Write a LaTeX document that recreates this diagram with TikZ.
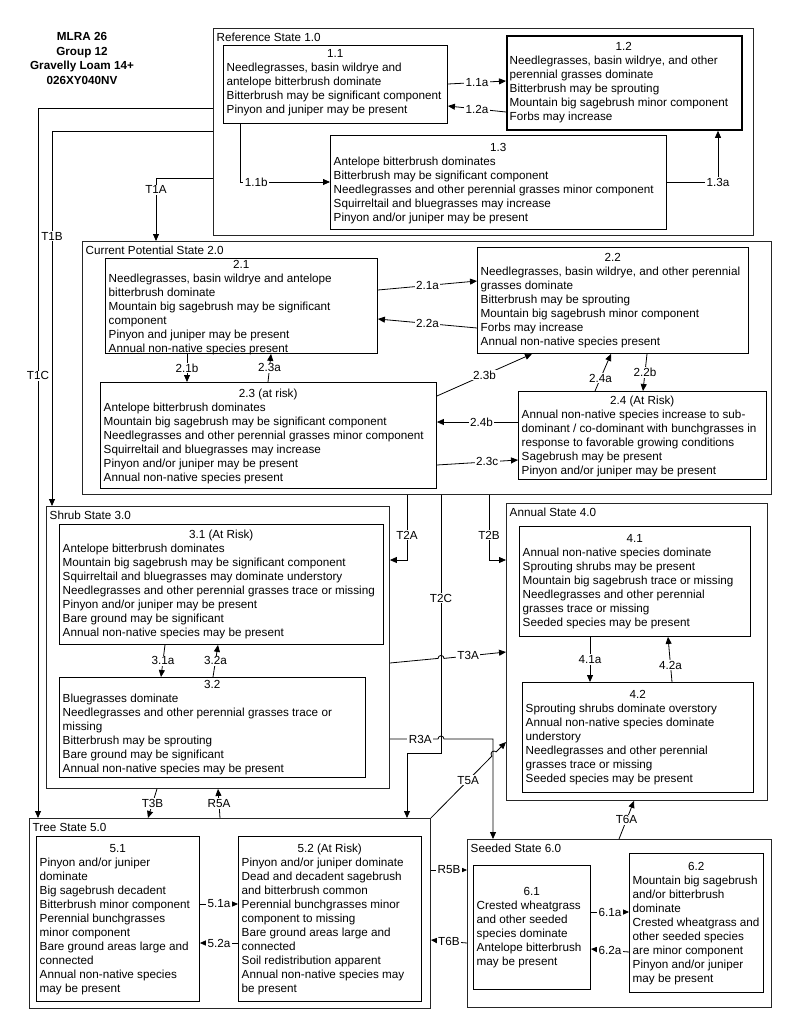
\documentclass[tikz,border=0pt]{standalone}
\usepackage{fontspec}
\setmainfont{Liberation Sans}
\usetikzlibrary{arrows.meta}
\newcommand\frm[6]{%
  \pgfmathsetmacro\rsFW{#4-#2}%
  \pgfmathsetmacro\rsFH{#5-#3}%
  \node[frame,minimum width=\rsFW pt,minimum height=\rsFH pt] (#1) at (#2,#3) {};
  \node[ftitle] (#1t) at ({#2+3.5},{#3+13.5}) {#6};
}
\newcommand\bx[9][]{%
  \pgfmathsetmacro\rsW{#5-#3}%
  \pgfmathsetmacro\rsH{#6-#4}%
  \pgfmathsetmacro\rsT{#5-#3-7}%
  \node[sbox,#1,minimum width=\rsW pt,minimum height=\rsH pt] (#2) at (#3,#4) {};
  \node[txt] (#2t) at ({#3+3.5},{#7-5.6}) {\makebox[\rsT pt]{\strut #8}\\#9};
}
\begin{document}
\begin{tikzpicture}[x=1pt,y=-1pt,
  every node/.style={font=\fontsize{11.7}{14}\selectfont, inner sep=0pt},
  frame/.style={draw=black!85, line width=0.9pt, anchor=north west},
  sbox/.style={draw, line width=0.9pt, anchor=north west},
  txt/.style={align=left, anchor=north west},
  ftitle/.style={anchor=base west},
  lbl/.style={fill=white, inner xsep=1.5pt, inner ysep=1pt},
  conn/.style={line width=0.8pt, -{Triangle[length=7pt,width=6pt]}},
]
\fill[white] (0,0) rectangle (800,1036);
\useasboundingbox (0,0) rectangle (800,1036);

\node[font=\bfseries\fontsize{11.7}{14.5}\selectfont, align=center, anchor=north] (ttl) at (82,30.5)
  {\strut MLRA 26\\Group 12\\Gravelly Loam 14+\\026XY040NV};

% state frames
\frm{fR}{213}{28}{753}{235}{Reference State 1.0}
\frm{fC}{82}{241}{771}{494}{Current Potential State 2.0}
\frm{fS}{46}{506}{389}{788}{Shrub State 3.0}
\frm{fA}{506}{503}{767}{800}{Annual State 4.0}
\frm{fT}{29}{818}{430}{1008}{Tree State 5.0}
\frm{fSd}{467}{839}{771}{1007}{Seeded State 6.0}

% community boxes
\bx{b11}{223}{45}{447}{123}{53}{1.1}{Needlegrasses, basin wildrye and\\antelope bitterbrush dominate\\Bitterbrush may be significant component\\Pinyon and juniper may be present}
\bx[line width=1.8pt]{b12}{506}{35}{741}{129}{46}{1.2}{Needlegrasses, basin wildrye, and other\\perennial grasses dominate\\Bitterbrush may be sprouting\\Mountain big sagebrush minor component\\Forbs may increase}
\bx{b13}{330}{135}{666}{229}{147}{1.3}{Antelope bitterbrush dominates\\Bitterbrush may be significant component\\Needlegrasses and other perennial grasses minor component\\Squirreltail and bluegrasses may increase\\Pinyon and/or juniper may be present}
\bx{b21}{105}{258}{377}{353}{264}{2.1}{Needlegrasses, basin wildrye and antelope\\bitterbrush dominate\\Mountain big sagebrush may be significant\\component\\Pinyon and juniper may be present\\Annual non-native species present}
\bx{b22}{477}{247}{748}{353}{257}{2.2}{Needlegrasses, basin wildrye, and other perennial\\grasses dominate\\Bitterbrush may be sprouting\\Mountain big sagebrush minor component\\Forbs may increase\\Annual non-native species present}
\bx{b23}{100}{382}{436}{488}{393}{2.3 (at risk)}{Antelope bitterbrush dominates\\Mountain big sagebrush may be significant component\\Needlegrasses and other perennial grasses minor component\\Squirreltail and bluegrasses may increase\\Pinyon and/or juniper may be present\\Annual non-native species present}
\bx{b24}{518}{391}{766}{479}{400}{2.4 (At Risk)}{Annual non-native species increase to sub-\\dominant / co-dominant with bunchgrasses in\\response to favorable growing conditions\\Sagebrush may be present\\Pinyon and/or juniper may be present}
\bx{b31}{59}{524}{383}{644}{534}{3.1 (At Risk)}{Antelope bitterbrush dominates\\Mountain big sagebrush may be significant component\\Squirreltail and bluegrasses may dominate understory\\Needlegrasses and other perennial grasses trace or missing\\Pinyon and/or juniper may be present\\Bare ground may be significant\\Annual non-native species may be present}
\bx{b32}{59}{677}{365}{777}{684}{3.2}{Bluegrasses dominate\\Needlegrasses and other perennial grasses trace or\\missing\\Bitterbrush may be sprouting\\Bare ground may be significant\\Annual non-native species may be present}
\bx{b41}{519}{526}{750}{636}{538}{4.1}{Annual non-native species dominate\\Sprouting shrubs may be present\\Mountain big sagebrush trace or missing\\Needlegrasses and other perennial\\grasses trace or missing\\Seeded species may be present}
\bx{b42}{522}{682}{753}{792}{694}{4.2}{Sprouting shrubs dominate overstory\\Annual non-native species dominate\\understory\\Needlegrasses and other perennial\\grasses trace or missing\\Seeded species may be present}
\bx{b51}{36}{836}{199}{1001}{848}{5.1}{Pinyon and/or juniper\\dominate\\Big sagebrush decadent\\Bitterbrush minor component\\Perennial bunchgrasses\\minor component\\Bare ground areas large and\\connected\\Annual non-native species\\may be present}
\bx{b52}{238}{836}{421}{1001}{848}{5.2 (At Risk)}{Pinyon and/or juniper dominate\\Dead and decadent sagebrush\\and bitterbrush common\\Perennial bunchgrasses minor\\component to missing\\Bare ground areas large and\\connected\\Soil redistribution apparent\\Annual non-native species may\\be present}
\bx{b61}{473}{865}{590}{989}{891}{6.1}{Crested wheatgrass\\and other seeded\\species dominate\\Antelope bitterbrush\\may be present}
\bx{b62}{629}{853}{763}{992}{866}{6.2}{Mountain big sagebrush\\and/or bitterbrush\\dominate\\Crested wheatgrass and\\other seeded species\\are minor component\\Pinyon and/or juniper\\may be present}

% reference state transitions
\draw[conn] (b11.east |- 0,84) -- node[lbl]{1.1a} (b12.west |- 0,81);
\draw[conn] (b12.west |- 0,112) -- node[lbl]{1.2a} (b11.east |- 0,106);
\draw[conn] (b11.south -| 240,0) -- (240,182) -- node[lbl,pos=.18]{1.1b} (b13.west |- 0,182);
\draw[conn] (b13.east |- 0,182) -- (718,182) node[lbl]{1.3a} -- (b12.south -| 718,0);

% T1
\draw[conn] (fR.west |- 0,178) -- (156,178) -- node[lbl,pos=.19]{T1A} (fC.north -| 156,0);
\draw[conn] (fR.west |- 0,131) -- (52,131) -- node[lbl,pos=.28]{T1B} (fS.north -| 52,0);
\draw[conn] (fR.west |- 0,108) -- (38,108) -- node[lbl,pos=.377]{T1C} (fT.north -| 38,0);

% current potential state
\draw[conn] (b21.east |- 0,290) -- node[lbl]{2.1a} (b22.west |- 0,281);
\draw[conn] (b22.west |- 0,328) -- node[lbl]{2.2a} (b21.east |- 0,319);
\draw[conn] (b21.south -| 187,0) -- node[lbl]{2.1b} (b23.north -| 187,0);
\draw[conn] (b23.north -| 268,0) -- node[lbl]{2.3a} (b21.south -| 271,0);
\draw[conn] (b23.east |- 0,396) -- node[lbl]{2.3b} (b22.south -| 532,0);
\draw[conn] (b24.north -| 595,0) -- node[lbl,pos=.35]{2.4a} (b22.south -| 611,0);
\draw[conn] (b22.south -| 647,0) -- node[lbl]{2.2b} (b24.north -| 643,0);
\draw[conn] (b24.west |- 0,422) -- node[lbl,pos=.45]{2.4b} (b23.east |- 0,422);
\draw[conn] (b23.east |- 0,465) -- node[lbl,pos=.62]{2.3c} (b24.west |- 0,460);

% T2
\draw[conn] (fC.south -| 407,0) -- node[lbl,pos=.62]{T2A} (407,560) -- (fS.east |- 0,560);
\draw[conn] (fC.south -| 489,0) -- node[lbl,pos=.62]{T2B} (489,560) -- (fA.west |- 0,560);
\draw[conn] (fC.south -| 441,0) -- node[lbl,pos=.4]{T2C} (441,753) -- (407,753) -- (fT.north -| 407,0);

% shrub state
\draw[conn] (b31.south -| 165,0) -- node[lbl]{3.1a} (b32.north -| 161,0);
\draw[conn] (b32.north -| 213,0) -- node[lbl]{3.2a} (b31.south -| 218,0);
\draw[conn] (fS.east |- 0,663) -- (438,658.4) arc[start angle=180,end angle=360,radius=3] -- node[lbl,pos=.39]{T3A} (fA.west |- 0,652);
\draw[conn] (fS.east |- 0,739) -- node[lbl,pos=.63]{R3A} (438,739) arc[start angle=180,end angle=360,radius=3] -- (493,739) -- (fSd.north -| 493,0);
\draw[conn] (fS.south -| 157,0) -- node[lbl]{T3B} (fT.north -| 148,0);
\draw[conn] (fT.north -| 220,0) -- node[lbl]{R5A} (fS.south -| 218,0);

% annual state
\draw[conn] (b41.south -| 590,0) -- node[lbl]{4.1a} (b42.north -| 590,0);
\draw[conn] (b42.north -| 672,0) -- node[lbl,pos=.37]{4.2a} (b41.south -| 668,0);

% tree state
\draw[conn] (fT.north east) -- node[lbl,pos=.61]{T5A} (491.88,756.12) arc[start angle=135,end angle=315,radius=3] -- (fA.west |- 0,742);
\draw[conn] (b51.east |- 0,904) -- node[lbl]{5.1a} (b52.west |- 0,904);
\draw[conn] (b52.west |- 0,943) -- node[lbl]{5.2a} (b51.east |- 0,943);
\draw[conn] (fT.east |- 0,870) -- node[lbl]{R5B} (fSd.west |- 0,870);

% seeded state
\draw[conn] (fSd.west |- 0,943) -- node[lbl]{T6B} (fT.east |- 0,940);
\draw[conn] (b61.east |- 0,912) -- node[lbl]{6.1a} (b62.west |- 0,912);
\draw[conn] (b62.west |- 0,952) -- node[lbl]{6.2a} (b61.east |- 0,949);
\draw[conn] (fSd.north -| 619,0) -- node[lbl]{T6A} (fA.south -| 634,0);
\end{tikzpicture}
\end{document}
